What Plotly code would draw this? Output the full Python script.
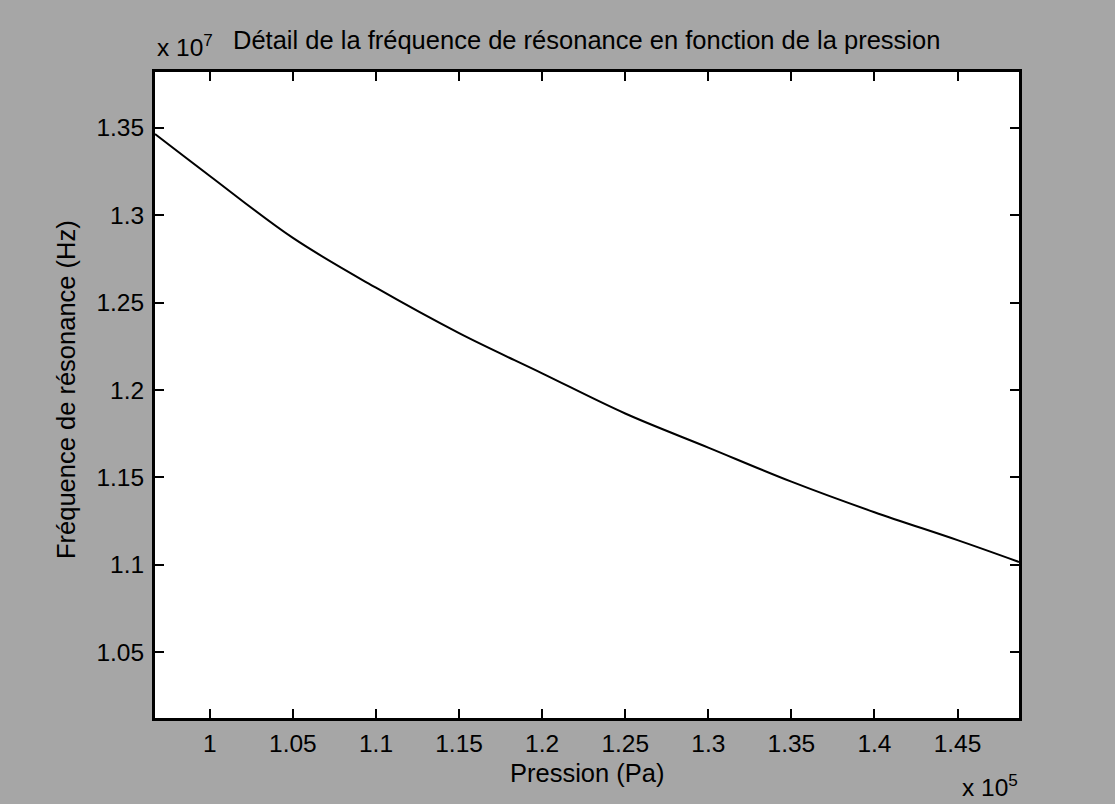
import plotly.graph_objects as go

# Data (pressure in Pa, frequency in Hz)
pression = [0.967e5, 1.00e5, 1.05e5, 1.10e5, 1.15e5, 1.20e5, 1.25e5,
            1.30e5, 1.35e5, 1.40e5, 1.45e5, 1.487e5]
frequence = [1.3465e7, 1.3225e7, 1.2870e7, 1.2585e7, 1.2325e7, 1.2095e7,
             1.1865e7, 1.1670e7, 1.1475e7, 1.1300e7, 1.1140e7, 1.1015e7]

x_ticks = [1.00e5, 1.05e5, 1.10e5, 1.15e5, 1.20e5, 1.25e5, 1.30e5, 1.35e5, 1.40e5, 1.45e5]
x_ticklabels = ["1", "1.05", "1.1", "1.15", "1.2", "1.25", "1.3", "1.35", "1.4", "1.45"]
y_ticks = [1.05e7, 1.10e7, 1.15e7, 1.20e7, 1.25e7, 1.30e7, 1.35e7]
y_ticklabels = ["1.05", "1.1", "1.15", "1.2", "1.25", "1.3", "1.35"]

x_range = [0.967e5, 1.487e5]
y_range = [1.0122e7, 1.382e7]

title = "Détail de la fréquence de résonance en fonction de la pression"
x_label = "Pression (Pa)"
y_label = "Fréquence de résonance (Hz)"

FONT = "Liberation Sans, Arial, sans-serif"
FS_TICK = 24.5
FS_LABEL = 25.5

fig = go.Figure()
fig.add_trace(go.Scatter(x=pression, y=frequence, mode="lines",
                         line=dict(color="black", width=2, shape="spline", smoothing=1.0),
                         showlegend=False, hoverinfo="skip"))

axis_common = dict(ticks="inside", ticklen=9, tickwidth=2, tickcolor="black",
                   showline=True, linewidth=3, linecolor="black", mirror="ticks",
                   showgrid=False, zeroline=False,
                   tickfont=dict(family=FONT, size=FS_TICK, color="black"))

fig.update_xaxes(range=x_range, tickvals=x_ticks, ticktext=x_ticklabels,
                 ticklabelstandoff=2, **axis_common)
fig.update_yaxes(range=y_range, tickvals=y_ticks, ticktext=y_ticklabels,
                 ticklabelstandoff=3, **axis_common)

fig.update_layout(
    width=1115, height=804,
    margin=dict(l=155, r=96, t=72, b=86),
    paper_bgcolor="#a6a6a6",
    plot_bgcolor="white",
    font=dict(family=FONT, size=FS_LABEL, color="black"),
)

# place annotations in pixel coordinates (convert to paper coords)
W, H = 1115, 804
l, r, t, b = 155, 96, 72, 86
pw, ph = W - l - r, H - t - b

def px(xp):
    return (xp - l) / pw

def py(yp):
    return (H - b - yp) / ph

def note(text, x, y, xanchor="center", angle=0, size=FS_LABEL):
    fig.add_annotation(text=text, x=px(x), y=py(y), xref="paper", yref="paper",
                       xanchor=xanchor, yanchor="middle", textangle=angle,
                       showarrow=False, font=dict(family=FONT, size=size, color="black"))

note(title, 586, 40)
note("x 10<sup>7</sup>", 155, 46, xanchor="left", size=FS_TICK)
note(x_label, 587, 773)
note("x 10<sup>5</sup>", 960, 786, xanchor="left", size=FS_TICK)
note(y_label, 66, 390, angle=-90)

fig.write_html("out.html")
